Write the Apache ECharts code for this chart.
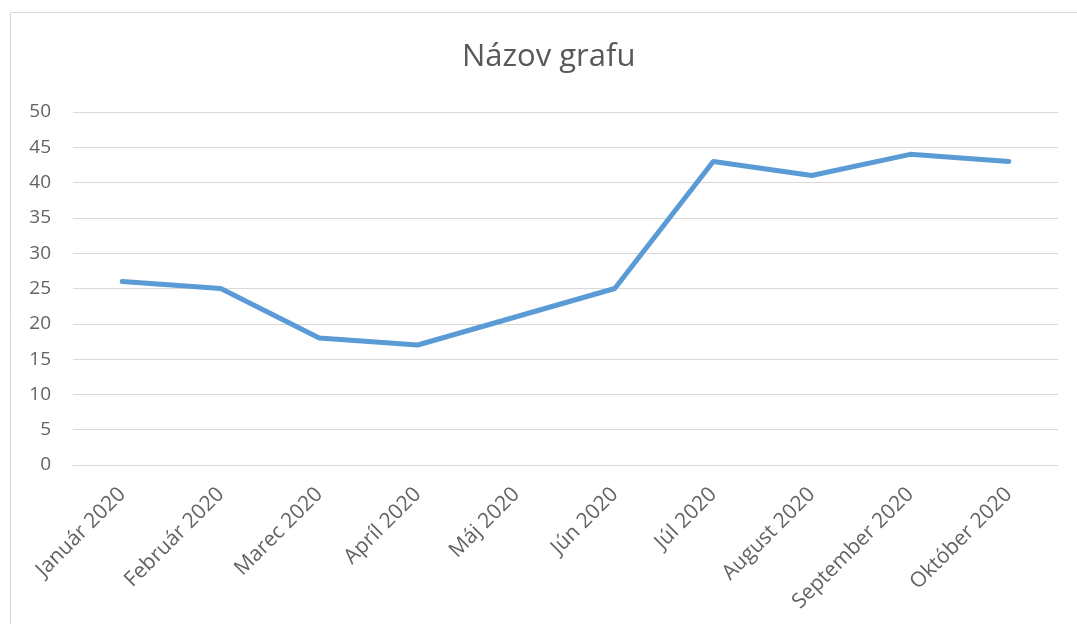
<!DOCTYPE html>
<html>
<head>
<meta charset="utf-8">
<script src="https://cdn.jsdelivr.net/npm/echarts@6/dist/echarts.min.js"></script>
<style>
  html, body { margin: 0; padding: 0; background: #fff; }
  #chart { width: 1077px; height: 624px; }
</style>
</head>
<body>
<div id="chart"></div>
<script>
// data
const months = ["Január 2020", "Február 2020", "Marec 2020", "Apríl 2020", "Máj 2020",
  "Jún 2020", "Júl 2020", "August 2020", "September 2020", "Október 2020"];
const values = [26, 25, 18, 17, 21, 25, 43, 41, 44, 43];
const yTicks = { min: 0, max: 50, step: 5 };

const chart = echarts.init(document.getElementById("chart"));
const font = "'Open Sans', 'Noto Sans', sans-serif";

chart.setOption({
  backgroundColor: "#fff",
  animation: false,
  graphic: [
    {
      type: "rect",
      shape: { x: 10.5, y: 12.5, width: 1100, height: 650 },
      style: { fill: "none", stroke: "#d9d9d9", lineWidth: 1 },
      silent: true
    }
  ],
  title: {
    text: "Názov grafu",
    left: 457,
    top: 37,
    textStyle: { color: "#595959", fontSize: 31, fontWeight: "normal", fontFamily: font }
  },
  grid: { left: 73, right: 19, top: 112, bottom: 159, containLabel: false },
  xAxis: {
    type: "category",
    data: months,
    boundaryGap: true,
    axisLine: { show: true, lineStyle: { color: "#d9d9d9", width: 1 } },
    axisTick: { show: false },
    axisLabel: {
      rotate: 45,
      interval: 0,
      margin: 26,
      color: "#636363",
      fontSize: 21,
      fontFamily: font
    }
  },
  yAxis: {
    type: "value",
    min: yTicks.min,
    max: yTicks.max,
    interval: yTicks.step,
    axisLine: { show: false },
    axisTick: { show: false },
    axisLabel: { color: "#636363", fontSize: 19, fontFamily: font, margin: 22 },
    splitLine: { lineStyle: { color: "#d9d9d9", width: 1 } }
  },
  series: [
    {
      type: "line",
      data: values,
      showSymbol: false,
      lineStyle: { color: "#5b9bd5", width: 5, cap: "round", join: "round" },
      itemStyle: { color: "#5b9bd5" }
    }
  ]
});
</script>
</body>
</html>
